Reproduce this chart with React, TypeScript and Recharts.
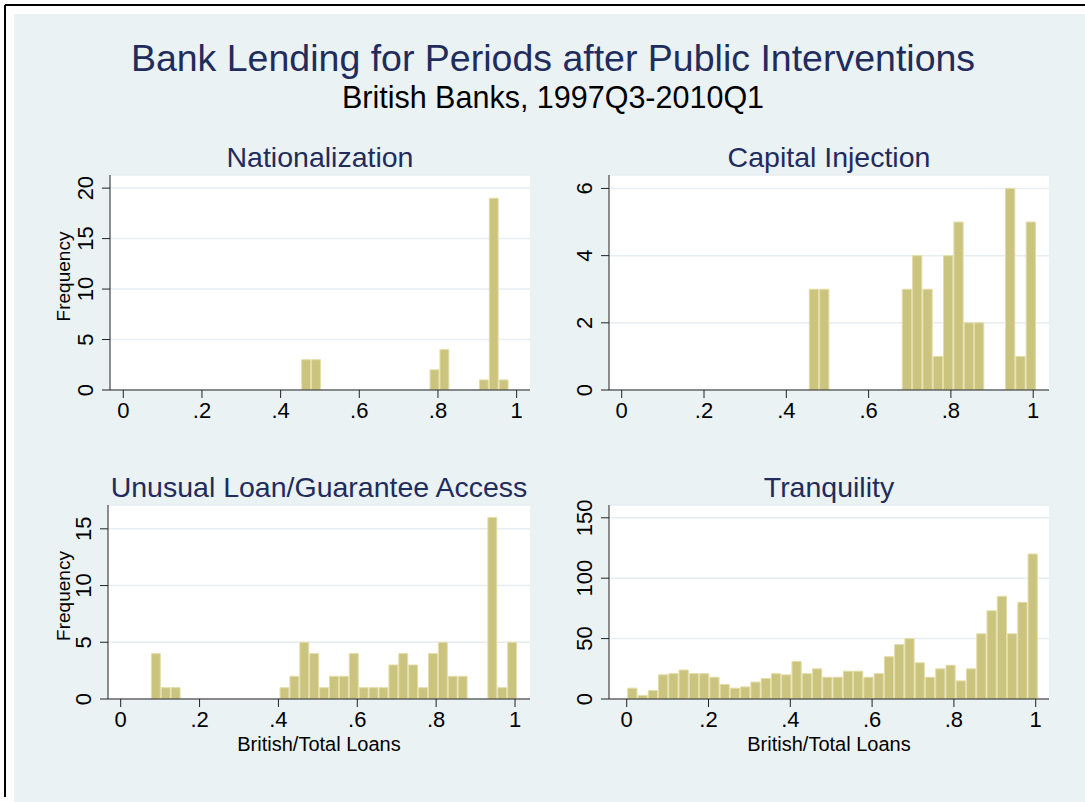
import React from 'react';
import { BarChart, Bar, XAxis, YAxis, CartesianGrid } from 'recharts';

// histogram bins (shared bin width, start = first bin edge)
const binWidth = 0.0251;

const nationalStart = 0.4536;
const nationalCounts = [3, 3, 0, 0, 0, 0, 0, 0, 0, 0, 0, 0, 0, 2, 4, 0, 0, 0, 1, 19, 1];

const capitalStart = 0.4534;
const capitalCounts = [3, 3, 0, 0, 0, 0, 0, 0, 0, 3, 4, 3, 1, 4, 5, 2, 2, 0, 0, 6, 1, 5];

const unusualStart = 0.0778;
const unusualCounts = [
  4, 1, 1, 0, 0, 0, 0, 0, 0, 0, 0, 0, 0, 1, 2, 5, 4, 1, 2, 2, 4, 1, 1, 1, 3, 4, 3, 1, 4, 5, 2, 2, 0, 0, 16, 1, 5,
];

const tranquilStart = 0.0;
const tranquilCounts = [
  9, 3, 7, 20, 21, 24, 21, 21, 18, 12, 9, 10, 14, 17, 21, 20, 31, 21, 25, 18,
  18, 23, 23, 18, 21, 35, 45, 50, 30, 18, 25, 28, 15, 25, 54, 73, 85, 54, 80, 120,
];

const xTicks = [0, 0.2, 0.4, 0.6, 0.8, 1];
const xTickLabels = ['0', '.2', '.4', '.6', '.8', '1'];

const nationalYTicks = [0, 5, 10, 15, 20];
const capitalYTicks = [0, 2, 4, 6];
const unusualYTicks = [0, 5, 10, 15];
const tranquilYTicks = [0, 50, 100, 150];

const mainTitle = 'Bank Lending for Periods after Public Interventions';
const subTitle = 'British Banks, 1997Q3-2010Q1';
const yTitle = 'Frequency';
const xTitle = 'British/Total Loans';

const FONT = '"Liberation Sans", Arial, Helvetica, sans-serif';
const NAVY = '#1F2C5C';
const BG = '#EAF2F3';
const GRID = '#E6EEF2';
const BAR = '#CBC47F';
const BAR_EDGE = '#E3DDA9';
const AXIS = '#222';

type Layout = {
  title: string;
  left: number;
  top: number;
  right: number;
  bottom: number;
  xMin: number;
  xMax: number;
  yMax: number;
  yLabel: boolean;
  xLabel: boolean;
};

const YTick = (props: any) => {
  const { x, y, payload } = props;
  return (
    <text
      x={x}
      y={y}
      transform={`rotate(-90, ${x}, ${y})`}
      textAnchor="middle"
      fontSize={22}
      fontFamily={FONT}
      fill="#000"
    >
      {payload.value}
    </text>
  );
};

function HistPanel({ lay, start, counts, yTicks }: { lay: Layout; start: number; counts: number[]; yTicks: number[] }) {
  const plotW = lay.right - lay.left;
  const plotH = lay.bottom - lay.top;
  const data = counts.map((c, i) => ({ x: start + (i + 0.5) * binWidth, count: c }));
  const barPx = (binWidth * plotW) / (lay.xMax - lay.xMin);

  return (
    <div style={{ position: 'absolute', left: lay.left - 100, top: lay.top - 5 }}>
      <BarChart
        width={plotW + 105}
        height={plotH + 75}
        data={data}
        margin={{ top: 5, right: 5, left: 40, bottom: 30 }}
        barCategoryGap={0}
      >
        <CartesianGrid vertical={false} stroke={GRID} strokeWidth={1.5} fill="#fff" />
        <XAxis
          type="number"
          dataKey="x"
          domain={[lay.xMin, lay.xMax]}
          ticks={xTicks}
          interval={0}
          allowDataOverflow
          tickFormatter={(v: number) => xTickLabels[xTicks.indexOf(v)]}
          height={40}
          tickSize={8}
          tickMargin={4}
          axisLine={{ stroke: AXIS }}
          tickLine={{ stroke: AXIS }}
          tick={{ fill: '#000', fontSize: 22, fontFamily: FONT }}
        />
        <YAxis
          type="number"
          domain={[0, lay.yMax]}
          ticks={yTicks}
          interval={0}
          allowDataOverflow
          width={60}
          tickSize={8}
          tickMargin={9}
          axisLine={{ stroke: AXIS }}
          tickLine={{ stroke: AXIS }}
          tick={<YTick />}
        />
        <Bar
          dataKey="count"
          fill={BAR}
          stroke={BAR_EDGE}
          strokeWidth={1}
          barSize={barPx}
          isAnimationActive={false}
        />
      </BarChart>
    </div>
  );
}

const layNational: Layout = { title: 'Nationalization', left: 110, top: 175, right: 530, bottom: 390, xMin: -0.0338, xMax: 1.034, yMax: 21.3, yLabel: true, xLabel: false };
const layCapital: Layout = { title: 'Capital Injection', left: 609, top: 175, right: 1049, bottom: 390, xMin: -0.0309, xMax: 1.0384, yMax: 6.4, yLabel: false, xLabel: false };
const layUnusual: Layout = { title: 'Unusual Loan/Guarantee Access', left: 108, top: 505, right: 530, bottom: 699, xMin: -0.0322, xMax: 1.038, yMax: 17.1, yLabel: true, xLabel: true };
const layTranquil: Layout = { title: 'Tranquility', left: 609, top: 505, right: 1049, bottom: 699, xMin: -0.0433, xMax: 1.0325, yMax: 160.6, yLabel: false, xLabel: true };

const layouts = [layNational, layCapital, layUnusual, layTranquil];

export default function App() {
  return (
    <div style={{ position: 'absolute', left: 0, top: 0, width: 1085, height: 802, background: '#fff', overflow: 'hidden' }}>
      <svg width={1085} height={802} style={{ position: 'absolute', left: 0, top: 0 }}>
        <rect x={14} y={14} width={1071} height={788} fill={BG} />
        <line x1={5} y1={5} x2={1085} y2={5} stroke="#000" strokeWidth={2} />
        <line x1={5} y1={5} x2={5} y2={797} stroke="#000" strokeWidth={2} />
        <text x={553} y={71} textAnchor="middle" fontSize={37.5} fontFamily={FONT} fill={NAVY}>{mainTitle}</text>
        <text x={553} y={108} textAnchor="middle" fontSize={30.5} fontFamily={FONT} fill="#000">{subTitle}</text>
        {layouts.map((l) => {
          const cx = (l.left + l.right) / 2;
          const cy = (l.top + l.bottom) / 2 - 6;
          return (
            <g key={l.title}>
              <text x={cx} y={l.top - 8} textAnchor="middle" fontSize={28.5} fontFamily={FONT} fill={NAVY}>{l.title}</text>
              {l.yLabel && (
                <text x={70} y={cy} transform={`rotate(-90, 70, ${cy})`} textAnchor="middle" fontSize={19} fontFamily={FONT} fill="#000">{yTitle}</text>
              )}
              {l.xLabel && (
                <text x={cx} y={l.bottom + 52} textAnchor="middle" fontSize={20} fontFamily={FONT} fill="#000">{xTitle}</text>
              )}
            </g>
          );
        })}
      </svg>
      <HistPanel lay={layNational} start={nationalStart} counts={nationalCounts} yTicks={nationalYTicks} />
      <HistPanel lay={layCapital} start={capitalStart} counts={capitalCounts} yTicks={capitalYTicks} />
      <HistPanel lay={layUnusual} start={unusualStart} counts={unusualCounts} yTicks={unusualYTicks} />
      <HistPanel lay={layTranquil} start={tranquilStart} counts={tranquilCounts} yTicks={tranquilYTicks} />
    </div>
  );
}
